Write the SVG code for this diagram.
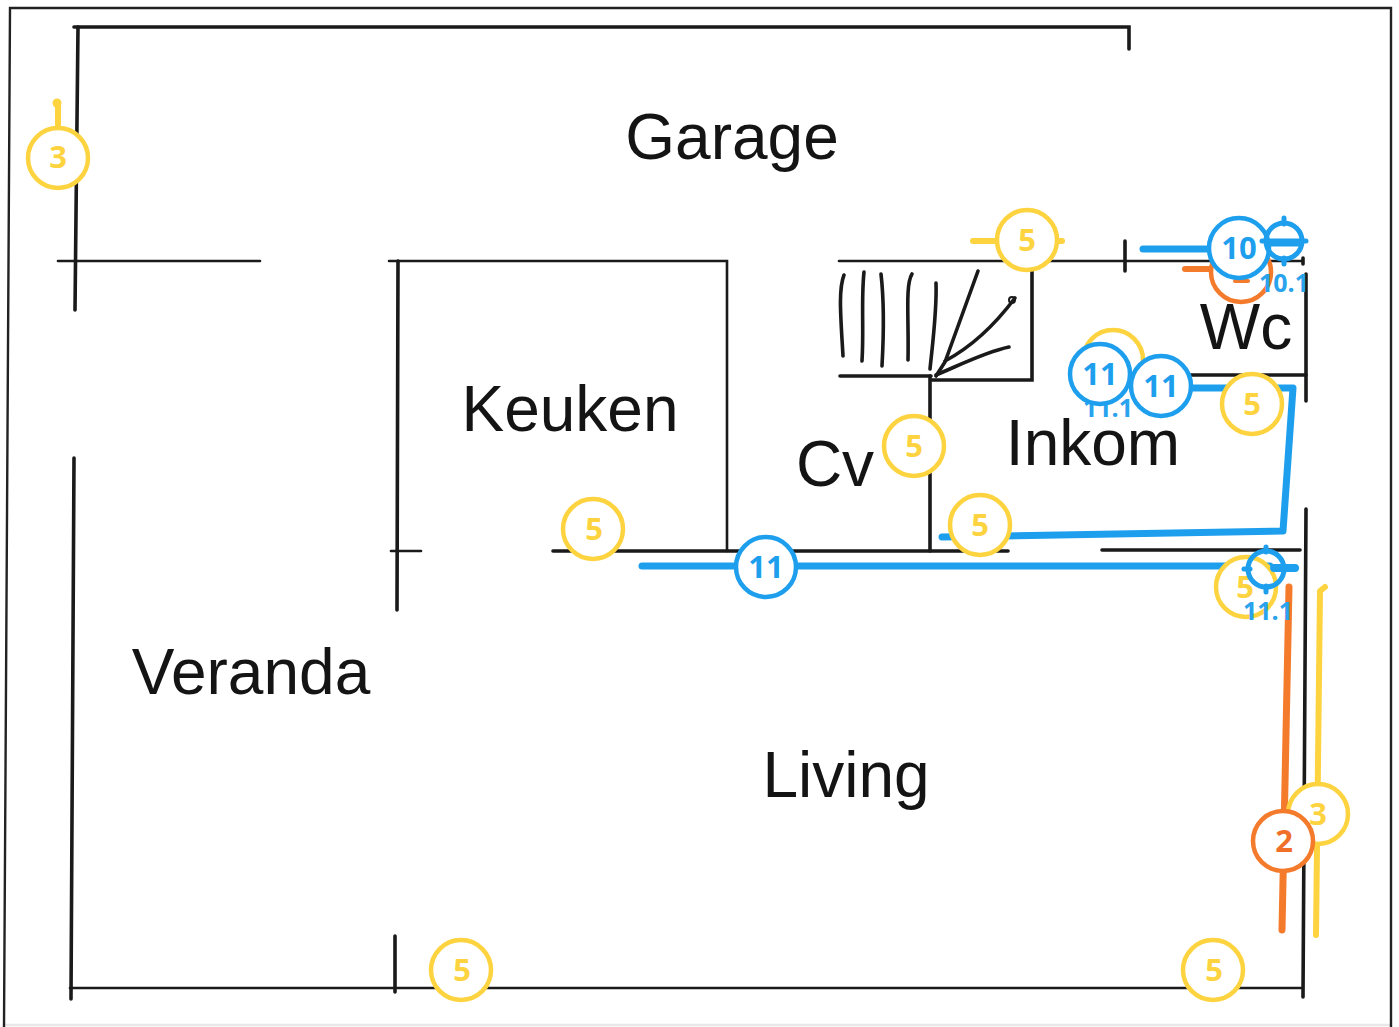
<svg xmlns="http://www.w3.org/2000/svg" width="1399" height="1027" viewBox="0 0 1399 1027">
<style>
.w{fill:none;stroke:#1a1a1a;stroke-width:3.6;stroke-linecap:round;stroke-linejoin:miter}
.t{stroke-width:2.6}
.f{fill:none;stroke:#222;stroke-width:2.4}
.room{font-family:"Liberation Sans",Arial,sans-serif;font-size:64px;fill:#141414;text-anchor:middle}
.b,.y,.o{fill:none;stroke-linecap:round;stroke-linejoin:round}
.b{stroke:#1e9fee}.y{stroke:#fdd33f}.o{stroke:#f47a2c}
.c{fill:#fff;stroke-width:4.5}
.n{font-family:"Open Sans","Liberation Sans",sans-serif;font-size:31px;font-weight:700;text-anchor:middle}
.s{font-family:"Open Sans","Liberation Sans",sans-serif;font-size:25px;font-weight:700;text-anchor:middle;fill:#2aa3ee}
.yt{fill:#fdd33f}.bt{fill:#1e9fee}.ot{fill:#f0702a}
</style>
<rect width="1399" height="1027" fill="#fff"/>
<path class="f" d="M4 1027L10 8H1391V1027"/>
<path class="f" d="M4 1025H1391" stroke-opacity="0.1"/>
<g id="walls">
<path class="w" d="M74 27H1129V49"/>
<path class="w" d="M78 27L75 310"/>
<path class="w t" d="M58 261H260"/>
<path class="w" d="M74 458L71 999"/>
<path class="w t" d="M70 988H1302"/>
<path class="w" d="M395 936V992"/>
<path class="w t" d="M389 261H727V551"/>
<path class="w" d="M398 261L397 610"/>
<path class="w t" d="M391 551H421"/>
<path class="w" d="M553 551H1008"/>
<path class="w" d="M1102 550H1300"/>
<path class="w" d="M1306 509L1303 997"/>
<path class="w t" d="M839 261H1302"/>
<path class="w" d="M1125 241V271"/>
<path class="w" d="M1303 258V264"/>
<path class="w" d="M1306 274V401"/>
<path class="w" d="M1190 375H1306"/>
<path class="w" d="M840 376H931"/>
<path class="w" d="M930 376V551"/>
<path class="w" d="M932 380H1032V270"/>
</g>
<g id="stairs">
<path class="w" d="M844 275C838 290 841 320 843 356"/>
<path class="w" d="M864 272C861 300 864 330 862 361"/>
<path class="w" d="M881 274C884 300 884 330 882 366"/>
<path class="w" d="M912 274C905 285 909 320 908 360"/>
<path class="w" d="M936 283C937 310 933 340 930 369"/>
<path class="w" d="M978 271L945 362L936 376"/>
<path class="w" d="M1015 298C1000 318 975 345 945 361"/>
<path class="w" d="M1009 347C985 352 960 365 936 375"/>
<circle cx="1012" cy="300" r="3" fill="none" stroke="#1a1a1a" stroke-width="2"/>
</g>
<g id="labels">
<text class="room" x="732" y="159">Garage</text>
<text class="room" x="570" y="431">Keuken</text>
<text class="room" x="835" y="486">Cv</text>
<text class="room" x="1093" y="465">Inkom</text>
<text class="room" x="1246" y="349">Wc</text>
<text class="room" x="251" y="694">Veranda</text>
<text class="room" x="846" y="797">Living</text>
</g>
<g id="connectors">
<path class="b" stroke-width="7" d="M642 566H1270"/>
<path class="b" stroke-width="7" d="M942 537L1283 531L1293 388H1190"/>
<path class="b" stroke-width="7" d="M1143 249H1230"/>
<path class="o" stroke-width="6" d="M1185 269H1225"/>
<path class="o" stroke-width="7" d="M1289 587L1282 930"/>
<path class="y" stroke-width="6" d="M1325 587L1320 591L1316 935"/>
<path class="y" stroke-width="6" d="M58 103V130"/>
<circle cx="57" cy="103" r="4.5" fill="#fdd33f"/>
<path class="y" stroke-width="6" d="M973 241H1062"/>
</g>
<g id="marker-3-left"><circle class="c y" cx="58" cy="158" r="30"/><text class="n yt" x="58" y="168">3</text></g>
<g id="marker-5-top"><circle class="c y" cx="1027" cy="240" r="30"/><text class="n yt" x="1027" y="251">5</text></g>
<g id="marker-5-keuken"><circle class="c y" cx="593" cy="529" r="30"/><text class="n yt" x="594" y="540">5</text></g>
<g id="marker-5-cv"><circle class="c y" cx="914" cy="446" r="30"/><text class="n yt" x="914" y="457">5</text></g>
<g id="marker-5-inkom"><circle class="c y" cx="980" cy="525" r="30"/><text class="n yt" x="980" y="536">5</text></g>
<g id="marker-5-bottom-left"><circle class="c y" cx="461" cy="970" r="30"/><text class="n yt" x="462" y="981">5</text></g>
<g id="marker-5-bottom-right"><circle class="c y" cx="1213" cy="970" r="30"/><text class="n yt" x="1214" y="981">5</text></g>
<g id="marker-5-hidden-inkom"><circle class="c y" cx="1113" cy="360" r="30"/></g>
<g id="marker-5-wc"><circle class="c y" cx="1252" cy="404" r="30"/><text class="n yt" x="1252" y="415">5</text></g>
<g id="marker-orange-wc"><circle class="c o" cx="1241" cy="272" r="30"/><path class="o" stroke-width="4" d="M1235 281H1248"/></g>
<g id="marker-5-living"><circle class="c y" cx="1246" cy="587" r="30"/><text class="n yt" x="1245" y="598">5</text></g>
<g id="marker-3-right"><circle class="c y" cx="1318" cy="814" r="30"/><text class="n yt" x="1318" y="825">3</text></g>
<g id="marker-2"><circle class="c o" cx="1283" cy="841" r="30"/><text class="n ot" x="1284" y="852">2</text></g>
<g id="marker-11-a"><circle class="c b" cx="1161" cy="386" r="30"/><text class="n bt" x="1161" y="397">11</text></g>
<text class="s" x="1108" y="417">11.1</text>
<g id="marker-11-b"><circle class="c b" cx="1100" cy="374" r="30"/><text class="n bt" x="1100" y="385">11</text></g>
<g id="marker-11-c"><circle class="c b" cx="766" cy="567" r="30"/><text class="n bt" x="766" y="578">11</text></g>
<text class="s" x="1284" y="292">10.1</text>
<g id="marker-10"><circle class="c b" cx="1239" cy="248" r="30"/><text class="n bt" x="1239" y="259">10</text></g>
<g id="target-10-1"><circle class="b" stroke-width="5" cx="1284" cy="241" r="18"/><path class="b" stroke-width="5" d="M1284 218V224M1284 258V264M1262 241H1306"/><path class="b" stroke-width="7" d="M1268 243H1300"/></g>
<g id="target-11-1"><circle class="b" stroke-width="5" cx="1266" cy="569" r="18"/><path class="b" stroke-width="5" d="M1266 547V552M1266 586V592M1244 569H1250"/><path class="b" stroke-width="8" d="M1274 568H1295"/></g>
<text class="s" x="1268" y="620">11.1</text>
</svg>
